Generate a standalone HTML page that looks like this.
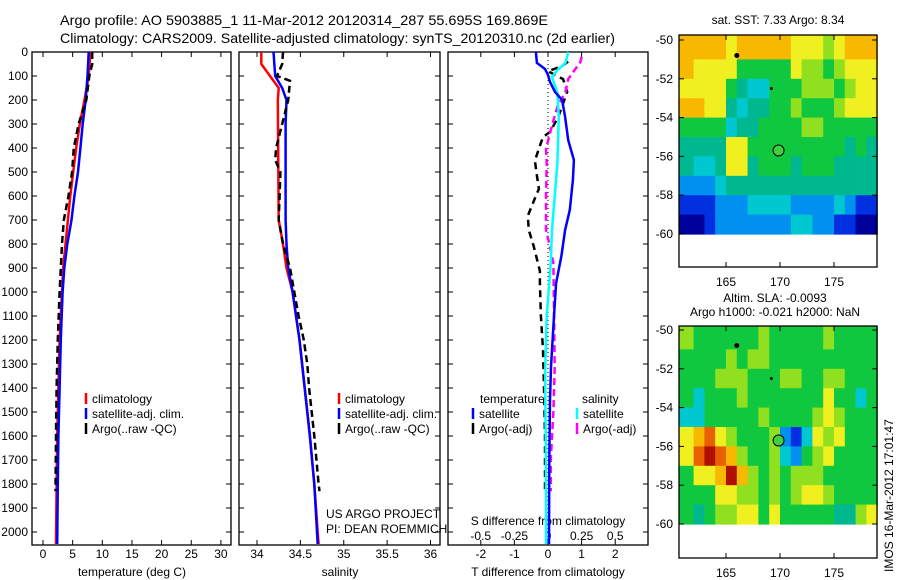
<!DOCTYPE html>
<html><head><meta charset="utf-8"><style>
html,body{margin:0;padding:0;background:#fff}
svg{display:block;font-family:"Liberation Sans",sans-serif;font-size:12px}
</style></head><body>
<svg id="s" width="900" height="580" viewBox="0 0 900 580">
<text x="60" y="25" font-size="14" textLength="488" lengthAdjust="spacingAndGlyphs">Argo profile: AO 5903885_1 11-Mar-2012 20120314_287 55.695S 169.869E</text>
<text x="60" y="43" font-size="14" textLength="555" lengthAdjust="spacingAndGlyphs">Climatology: CARS2009. Satellite-adjusted climatology: synTS_20120310.nc (2d earlier)</text>
<g id="g"></g>
</svg>
<script>
// ---------- data ----------
const tClimD=[0,100,200,300,400,500,600,700,800,900,1000,1100,1200,1400,1600,1800,2050];
const tClimV=[8.0,7.7,7.0,6.2,5.6,5.1,4.6,4.2,3.8,3.4,3.2,3.0,2.8,2.6,2.4,2.3,2.2];
const tSatD=[0,100,200,300,400,500,600,700,800,900,1000,1200,1400,1600,1800,2050];
const tSatV=[7.7,7.5,7.2,6.7,6.3,5.9,5.3,4.8,4.1,3.6,3.3,3.0,2.8,2.6,2.5,2.4];
const tArgoD=[0,50,100,200,300,400,500,600,700,800,900,1000,1200,1400,1600,1830];
const tArgoV=[8.3,8.3,7.8,7.3,6.0,5.2,4.9,4.3,3.5,3.2,3.0,2.8,2.5,2.3,2.2,2.1];
const sClimD=[0,50,100,150,200,700,800,900,1000,1100,1200,1300,1400,1600,1800,2000,2050];
const sClimV=[34.05,34.05,34.15,34.25,34.24,34.25,34.30,34.34,34.41,34.45,34.49,34.52,34.55,34.61,34.66,34.70,34.71];
const sSatD=[0,100,150,200,300,700,800,900,1000,1200,1400,1600,1800,2050];
const sSatV=[34.19,34.21,34.29,34.34,34.33,34.33,34.34,34.36,34.41,34.49,34.55,34.61,34.66,34.70];
const sArgoD=[0,50,100,120,200,300,400,450,500,600,700,800,900,1000,1100,1200,1300,1400,1600,1800,1830];
const sArgoV=[34.30,34.29,34.23,34.38,34.36,34.29,34.22,34.21,34.27,34.26,34.25,34.30,34.38,34.43,34.48,34.54,34.58,34.60,34.66,34.71,34.72];
const dTsatD=[0,46,71,96,125,167,200,270,367,450,533,658,742,850,963,1100,1312,1450,1700,2050];
const dTsatV=[-0.36,-0.33,-0.09,0,0.06,0.21,0.42,0.51,0.6,0.77,0.74,0.65,0.51,0.4,0.24,0.18,0.09,0.06,0.04,0.03];
const dSsatD=[0,46,75,104,171,270,462,742,880,963,1100,1312,1450,1700,2050];
const dSsatV=[0.15,0.13,0.07,0.03,0.07,0.08,0.07,0.03,0.02,0.01,-0.01,-0.02,-0.02,-0.015,-0.015];
const dTargoD=[40,60,80,113,166,273,333,354,403,453,515,570,640,683,742,812,912,963,1100,1240,1400,1600,1830];
const dTargoV=[0.6,0.4,0,0.45,0.57,0.3,0.06,-0.15,-0.27,-0.39,-0.33,-0.27,-0.48,-0.6,-0.57,-0.42,-0.24,-0.24,-0.21,-0.15,-0.12,-0.09,-0.09];
const dSargoD=[20,42,113,166,229,285,403,462,600,742,812,880,1100,1312,1500,1700,1830];
const dSargoV=[0.25,0.24,0.15,0.13,0.07,0.04,-0.015,-0.01,-0.015,-0.015,0.015,0.04,0.045,0.05,0.04,0.02,0.02];
const depthTicks=[0,100,200,300,400,500,600,700,800,900,1000,1100,1200,1300,1400,1500,1600,1700,1800,1900,2000];
const tTicks=[0,5,10,15,20,25,30];
const sTicks=[34,34.5,35,35.5,36];
const sTickLabels=["34","34.5","35","35.5","36"];
const dTTicks=[-2,-1,0,1,2];
const dSTicks=[-0.5,-0.25,0,0.25,0.5];
const dSTickLabels=["-0.5","-0.25","0","0.25","0.5"];
const latTicks=[-50,-52,-54,-56,-58,-60];
const lonTicks=[165,170,175];
// map fields (1x1 deg cells, lon 161..179, lat -50..-60), digit = colour level
const sstGrid=["888878888877767888","877775555576656777","777754335556665677","887743445565556777","555534455556655555","444477555555555454","433477455545554444","222344444444444444","111222333322223211","001222222233221100"];
const slaGrid=["655555565555565555","555565665555555555","555666555665566555","535556555555575535","335555565555676555","789765556213767555","79a986556325675555","5778a8656566655555","555776656567765555","545667757555554467"];
const argoLon=169.869, argoLat=-55.695;

// ---------- helpers ----------
const NS="http://www.w3.org/2000/svg";
const G=document.getElementById('g');
function mk(tag,at,parent){const e=document.createElementNS(NS,tag);for(const k in at)e.setAttribute(k,at[k]);(parent||G).appendChild(e);return e;}
const yD=d=>52+d*0.24;
const xT=t=>43+t*5.93;
const xS=s=>257+(s-34)*86.75;
const xdT=v=>548+v*33.6;
const xdS=v=>548+v*134.5;
const PBOT=545;

function panel(x0,x1,name){
  const r=mk('rect',{x:x0,y:52,width:x1-x0,height:PBOT-52,fill:'none',stroke:'#000','stroke-width':1.3});
  
  
  depthTicks.forEach(d=>{
    mk('line',{x1:x0,x2:x0+5,y1:yD(d),y2:yD(d),stroke:'#000'});
    mk('line',{x1:x1-5,x2:x1,y1:yD(d),y2:yD(d),stroke:'#000'});
  });
}
function xticks(arr,fx,labels,yLab){
  arr.forEach((v,i)=>{
    const x=fx(v);
    mk('line',{x1:x,x2:x,y1:52,y2:57,stroke:'#000'});
    mk('line',{x1:x,x2:x,y1:PBOT-5,y2:PBOT,stroke:'#000'});
    const t=mk('text',{x:x,y:yLab,'text-anchor':'middle'});
    t.textContent=labels?labels[i]:String(v);
    
    
  });
}
function line(D,V,fx,col,dash,w,name){
  const p=D.map((d,i)=>fx(V[i]).toFixed(1)+','+yD(d).toFixed(1)).join(' ');
  const a={points:p,fill:'none',stroke:col,'stroke-width':w||2.5};
  if(dash)a['stroke-dasharray']=dash;
  const e=mk('polyline',a);
  
  
}
function txt(x,y,s,name,extra){const t=mk('text',Object.assign({x:x,y:y},extra||{}));t.textContent=s;return t;}
function legend(x,y,col,s,dash){
  mk('line',{x1:x,x2:x,y1:y-10,y2:y+1,stroke:col,'stroke-width':2.5});
  txt(x+6,y,s,'legend-entry');
}

// ---------- panel 1 temperature ----------
panel(32,231,'temperature-panel');
depthTicks.forEach(d=>txt(28,yD(d)+4,String(d),'y-tick-label',{'text-anchor':'end'}));
xticks(tTicks,xT,null,558);
txt(132,576,'temperature (deg C)','x-axis-title',{'text-anchor':'middle'});
line(tClimD,tClimV,xT,'#f00',null,2.5,'temp-climatology-line');
line(tSatD,tSatV,xT,'#00f',null,2.5,'temp-satellite-line');
line(tArgoD,tArgoV,xT,'#000','7 4',2.5,'temp-argo-line');
legend(86,403,'#f00','climatology');
legend(86,418,'#00f','satellite-adj. clim.');
legend(86,433,'#000','Argo(..raw -QC)');

// ---------- panel 2 salinity ----------
panel(239,440,'salinity-panel');
xticks(sTicks,xS,sTickLabels,558);
txt(340,576,'salinity','x-axis-title',{'text-anchor':'middle'});
line(sClimD,sClimV,xS,'#f00',null,2.5,'sal-climatology-line');
line(sSatD,sSatV,xS,'#00f',null,2.5,'sal-satellite-line');
line(sArgoD,sArgoV,xS,'#000','7 4',2.5,'sal-argo-line');
legend(339,403,'#f00','climatology');
legend(339,418,'#00f','satellite-adj. clim.');
legend(339,433,'#000','Argo(..raw -QC)');
txt(326,518,'US ARGO PROJECT','credit-line-1');
txt(326,533,'PI: DEAN ROEMMICH','credit-line-2');

// ---------- panel 3 differences ----------
panel(448,648,'difference-panel');
xticks(dTTicks,xdT,null,558);
txt(548,576,'T difference from climatology','x-axis-title',{'text-anchor':'middle'});
mk('line',{x1:548,x2:548,y1:52,y2:PBOT,stroke:'#000','stroke-dasharray':'1 3'});
dSTicks.forEach((v,i)=>txt(xdS(v),540,dSTickLabels[i],'s-tick-label',{'text-anchor':'middle'}));
txt(548,525,'S difference from climatology','s-axis-title',{'text-anchor':'middle'});
line(dTargoD,dTargoV,xdT,'#000','7 5',2.5,'tdiff-argo-line');
line(dSargoD,dSargoV,xdS,'#f0f','7 4',2.5,'sdiff-argo-line');
line(dSsatD,dSsatV,xdS,'#0ff',null,2.5,'sdiff-satellite-line');
line(dTsatD,dTsatV,xdT,'#00f',null,2.5,'tdiff-satellite-line');
txt(480,403,'temperature','legend-header');
txt(582,403,'salinity','legend-header');
legend(473,418,'#00f','satellite');
legend(473,433,'#000','Argo(-adj)');
legend(577,418,'#0ff','satellite');
legend(577,433,'#f0f','Argo(-adj)');

// ---------- maps ----------
const cmap={'0':'#00009a','1':'#0030e0','2':'#0090f0','3':'#00c8d0','4':'#00b890','5':'#10c840','6':'#90e020','7':'#f0f020','8':'#f8b800','9':'#e86000','a':'#b01000'};
const xL=lon=>726+(lon-165)*10.8;
function map(grid,top,lat50,name){
  const yL=lat=>lat50+(-50-lat)*19.4;
  grid.forEach((row,r)=>{
    for(let c=0;c<row.length;c++){
      const x=xL(161+c),y=yL(-50-r);
      const lx=c===0?679:x;
      const cell=mk('rect',{x:lx.toFixed(1),y:(r===0?top:y).toFixed(1),width:(xL(162+c)-lx+0.6).toFixed(1),height:(yL(-51-r)-(r===0?top:y)+0.6).toFixed(1),fill:cmap[row[c]]});
      
      
    }
  });
  const b=mk('rect',{x:679,y:top,width:198,height:232,fill:'none',stroke:'#000','stroke-width':1.3});
  
  
  latTicks.forEach(l=>{
    mk('line',{x1:679,x2:684,y1:yL(l),y2:yL(l),stroke:'#000'});
    mk('line',{x1:877,x2:872,y1:yL(l),y2:yL(l),stroke:'#000'});
    txt(673,yL(l)+4,String(l),'lat-tick-label',{'text-anchor':'end'});
  });
  lonTicks.forEach(l=>{
    mk('line',{x1:xL(l),x2:xL(l),y1:top,y2:top+5,stroke:'#000'});
    mk('line',{x1:xL(l),x2:xL(l),y1:top+232,y2:top+227,stroke:'#000'});
    txt(xL(l),top+251,String(l),'lon-tick-label',{'text-anchor':'middle'});
  });
  mk('circle',{cx:xL(166),cy:yL(-50.8),r:2.5,fill:'#000'});
  mk('circle',{cx:xL(169.2),cy:yL(-52.5),r:1.5,fill:'#000'});
  const m=mk('circle',{cx:xL(argoLon),cy:yL(argoLat),r:5.5,fill:'#40d040',stroke:'#000'});
  
  
}
map(sstGrid,35,40,'sst-map');
map(slaGrid,326,330,'sla-map');
txt(778,24,'sat. SST: 7.33 Argo: 8.34','sst-map-title',{'text-anchor':'middle'});
txt(775,302,'Altim. SLA: -0.0093','sla-map-title-1',{'text-anchor':'middle'});
txt(775,316,'Argo h1000: -0.021 h2000: NaN','sla-map-title-2',{'text-anchor':'middle'});
txt(0,0,'IMOS 16-Mar-2012 17:01:47','timestamp',{transform:'translate(893,572) rotate(-90)','font-size':'12'});
</script>
</body></html>
